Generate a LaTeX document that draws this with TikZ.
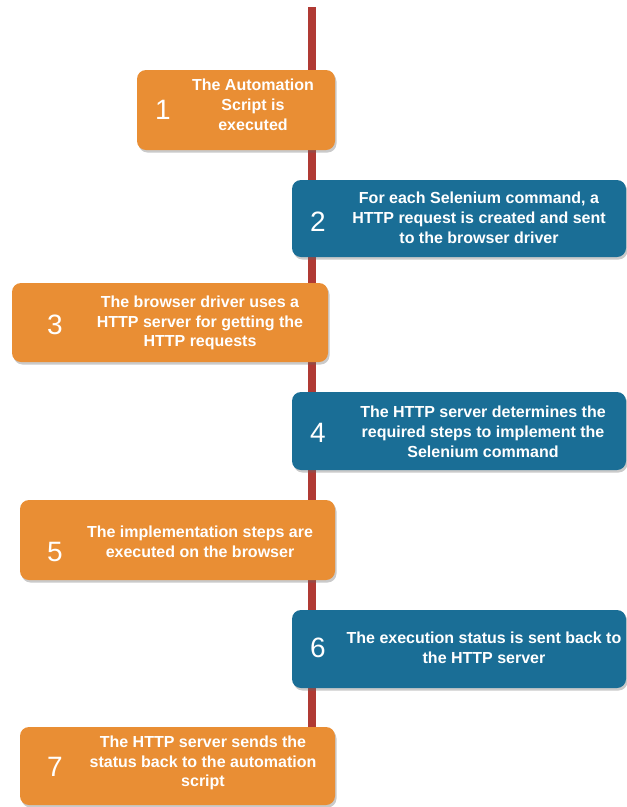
\documentclass[tikz,border=0pt]{standalone}
\usepackage{fontspec}
\setmainfont{Liberation Sans}
\usetikzlibrary{shadows,backgrounds}
\definecolor{stepor}{RGB}{233,142,52}
\definecolor{stepbl}{RGB}{26,110,150}
\definecolor{axisred}{RGB}{176,58,52}
\tikzset{
  boxbase/.style={draw=none, rounded corners=9pt, inner sep=0pt,
    drop shadow={shadow xshift=1.5pt, shadow yshift=-2.5pt, opacity=0.35, fill=black!60}},
  orbox/.style={boxbase, fill=stepor},
  blbox/.style={boxbase, fill=stepbl},
  numtxt/.style={text=white, font=\fontsize{28}{30}\selectfont, inner sep=0pt},
  steptxt/.style={text=white, font=\bfseries\fontsize{16}{19.8}\selectfont, align=center, inner sep=0pt},
}
\begin{document}
\begin{tikzpicture}[x=1pt,y=-1pt]
\useasboundingbox (0,0) rectangle (627,807);
\coordinate (top) at (312,7);
% boxes
\node[orbox, minimum width=198pt, minimum height=80pt] (box1) at (236,110) {};
\node[blbox, minimum width=334pt, minimum height=77pt] (box2) at (459,218.5) {};
\node[orbox, minimum width=316pt, minimum height=79pt] (box3) at (170,322.5) {};
\node[blbox, minimum width=334pt, minimum height=78pt] (box4) at (459,431) {};
\node[orbox, minimum width=315pt, minimum height=80pt] (box5) at (177.5,540) {};
\node[blbox, minimum width=334pt, minimum height=78pt] (box6) at (459,649) {};
\node[orbox, minimum width=315pt, minimum height=78pt] (box7) at (177.5,766) {};
% axis behind boxes
\begin{scope}[on background layer]
\draw[axisred, line width=7.5pt] (top) -- (top |- box7.north);
\end{scope}
% numbers
\node[numtxt] (n1) at (163,110) {1};
\node[numtxt] (n2) at (318,222) {2};
\node[numtxt] (n3) at (55,325) {3};
\node[numtxt] (n4) at (318,433) {4};
\node[numtxt] (n5) at (55,552) {5};
\node[numtxt] (n6) at (318,648) {6};
\node[numtxt] (n7) at (55,767) {7};
% texts
\node[steptxt] (t1) at (253,105) {The Automation\\Script is\\executed};
\node[steptxt] (t2) at (479,218) {For each Selenium command, a\\HTTP request is created and sent\\to the browser driver};
\node[steptxt] (t3) at (200,323) {The browser driver uses a\\HTTP server for getting the\\HTTP requests};
\node[steptxt] (t4) at (483,432) {The HTTP server determines the\\required steps to implement the\\Selenium command};
\node[steptxt] (t5) at (200,542) {The implementation steps are\\executed on the browser};
\node[steptxt] (t6) at (484,648) {The execution status is sent back to\\the HTTP server};
\node[steptxt] (t7) at (203,763) {The HTTP server sends the\\status back to the automation\\script};
\end{tikzpicture}
\end{document}
